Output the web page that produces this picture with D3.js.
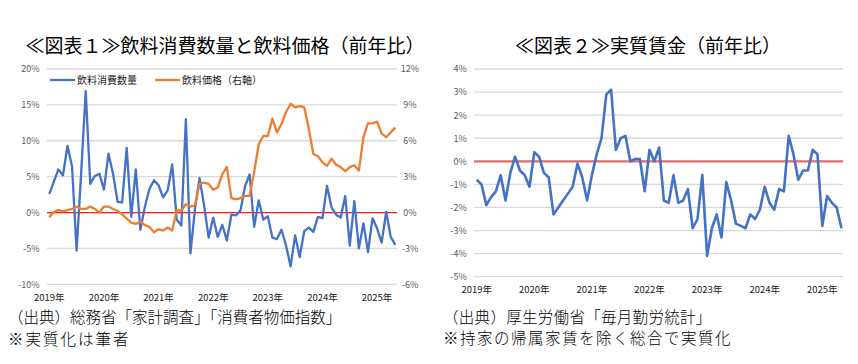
<!DOCTYPE html>
<html><head><meta charset="utf-8">
<script src="https://cdn.jsdelivr.net/npm/d3@7"></script>
<style>
body{margin:0;background:#fff;}
svg{display:block;font-family:"Noto Sans CJK JP","Noto Sans",sans-serif;}
</style>
</head><body>
<svg id="c" width="858" height="364"></svg>
<script>
// ---- data ----
const months = d3.timeMonth.range(new Date(2019,0,1), new Date(2025,5,1)); // Jan 2019 .. May 2025
const yearLabels = ["2019年","2020年","2021年","2022年","2023年","2024年","2025年"];

// 飲料消費数量 (%), left axis
const drinkQty = [
  2.6, 4.3, 6.0, 5.2, 9.3, 6.4, -5.3, 5.5, 16.9, 4.0, 5.1, 5.4,
  3.2, 8.2, 5.4, 1.5, 1.4, 9.0, -0.6, 6.0, -2.4, 0.8, 3.3, 4.5,
  3.8, 2.1, 3.1, 6.7, -1.0, -1.8, 13.0, -5.7, 0.5, 4.8, 1.0, -3.5,
  -0.7, -3.4, -1.7, -3.9, -0.3, -0.4, 0.3, 3.7, 5.3, -2.0, 1.7, -1.0,
  -0.5, -3.5, -3.7, -2.4, -4.6, -7.5, -3.2, -6.2, -2.6, -2.1, -2.7, -0.6,
  -0.8, 3.7, 0.7, -0.3, -0.7, 2.3, -4.6, 1.6, -5.0, -1.5, -5.5, -0.8,
  -2.2, -4.2, 0.1, -3.4, -4.5
];
// 飲料価格 (%), right axis
const drinkPrice = [
  -0.4, 0.05, 0.2, 0.1, 0.2, 0.3, 0.5, 0.3, 0.3, 0.5, 0.3, 0.0,
  0.5, 0.5, 0.3, 0.15, -0.15, -0.5, -0.85, -0.95, -0.75, -1.05, -1.2, -1.65,
  -1.4, -1.5, -1.25, -1.5, 0.2, 0.15, 0.7, 0.5, 0.6, 2.4, 2.5, 2.4,
  1.9, 2.1, 3.2, 3.8, 1.2, 1.1, 1.2, 1.4, 1.4, 3.4, 5.7, 6.4,
  6.4, 7.85, 6.7, 7.4, 8.4, 9.1, 8.8, 8.9, 8.8, 7.0, 4.9, 4.7,
  4.2, 3.9, 4.5, 4.0, 3.8, 3.45, 3.8, 3.95, 3.5, 6.3, 7.45, 7.45,
  7.6, 6.6, 6.3, 6.7, 7.1
];
// 実質賃金 (%)
const realWage = [
  -0.8, -1.0, -1.9, -1.55, -1.3, -0.6, -1.7, -0.5, 0.2, -0.4, -0.6, -1.1,
  0.4, 0.2, -0.5, -0.7, -2.3, -2.0, -1.7, -1.4, -1.1, -0.1, -0.7, -1.7,
  -0.6, 0.3, 1.0, 2.9, 3.1, 0.5, 1.0, 1.1, 0.0, 0.1, 0.1, -1.3,
  0.5, 0.0, 0.6, -1.7, -1.8, -0.6, -1.8, -1.7, -1.2, -2.9, -2.5, -0.6,
  -4.1, -2.9, -2.3, -3.3, -0.9, -1.7, -2.7, -2.8, -2.9, -2.3, -2.5, -2.1,
  -1.1, -1.8, -2.1, -1.2, -1.3, 1.1, 0.3, -0.8, -0.4, -0.4, 0.5, 0.3,
  -2.8, -1.5, -1.8, -2.0, -2.9
];

const leftTicks = [20, 15, 10, 5, 0, -5, -10];
const rightTicks = [12, 9, 6, 3, 0, -3, -6];
const wageTicks = [4, 3, 2, 1, 0, -1, -2, -3, -4, -5];

const title1 = "≪図表１≫飲料消費数量と飲料価格（前年比）";
const title2 = "≪図表２≫実質賃金（前年比）";
const legend1 = ["飲料消費数量", "飲料価格（右軸）"];
const notes1 = ["（出典）総務省「家計調査」「消費者物価指数」", "※実質化は筆者"];
const notes2 = ["（出典）厚生労働省「毎月勤労統計」", "※持家の帰属家賃を除く総合で実質化"];

// ---- drawing ----
const svg = d3.select("#c");
const BLUE = "#4472C4", ORANGE = "#ED7D31", GRID = "#d9d9d9", LBL = "#595959";
const pct = d => d + "%";
const keys = months.map(d => +d);
const janIdx = months.map((d,i)=>[d,i]).filter(([d])=>d.getMonth()===0).map(([,i])=>i);

// ===== Chart 1 =====
{
  const x = d3.scalePoint().domain(keys).range([49.3, 395.3]);
  const y = d3.scaleLinear().domain([-10, 20]).range([284.3, 69]);
  const yR = d3.scaleLinear().domain([-6, 12]).range([284.3, 69]);
  const g = svg.append("g");

  g.append("g").selectAll("line").data(leftTicks).join("line")
    .attr("x1", 47).attr("x2", 397)
    .attr("y1", d => y(d)).attr("y2", d => y(d))
    .attr("stroke", GRID).attr("stroke-width", 1.3);

  const axL = d3.axisLeft(y).tickValues(leftTicks).tickFormat(pct).tickSize(0).tickPadding(0);
  const gl = g.append("g").attr("transform", "translate(39.5,0)").call(axL);
  gl.select(".domain").remove();
  gl.selectAll("text").attr("fill", LBL).attr("font-size", 9).attr("font-family", "'Noto Sans CJK JP'");

  const axR = d3.axisRight(yR).tickValues(rightTicks).tickFormat(pct).tickSize(0).tickPadding(0);
  const gr = g.append("g").attr("transform", "translate(410,0)").call(axR);
  gr.select(".domain").remove();
  gr.selectAll("text").attr("fill", LBL).attr("font-size", 9).attr("text-anchor", "middle").attr("font-family", "'Noto Sans CJK JP'");

  g.append("line").attr("x1", 47).attr("x2", 397).attr("y1", y(0)).attr("y2", y(0))
    .attr("stroke", "#ff1a1a").attr("stroke-width", 1.2);

  g.append("path").datum(drinkQty)
    .attr("d", d3.line().x((d,i)=>x(keys[i])).y(d=>y(d)))
    .attr("fill","none").attr("stroke",BLUE).attr("stroke-width",2.3).attr("stroke-linejoin","round");
  g.append("path").datum(drinkPrice)
    .attr("d", d3.line().x((d,i)=>x(keys[i])).y(d=>yR(d)))
    .attr("fill","none").attr("stroke",ORANGE).attr("stroke-width",2.3).attr("stroke-linejoin","round");

  g.append("g").selectAll("text").data(janIdx).join("text")
    .attr("x", i => x(keys[i])).attr("y", 297.5).attr("dy", "0.35em")
    .attr("text-anchor", "middle").attr("font-size", 9.5).attr("fill", "#222")
    .text((d,k) => yearLabels[k]);

  // legend
  const lg = g.append("g");
  lg.append("line").attr("x1",50).attr("x2",75).attr("y1",80).attr("y2",80).attr("stroke",BLUE).attr("stroke-width",2.3);
  lg.append("text").attr("x",77).attr("y",80).attr("dy","0.35em").attr("font-size",10).attr("fill","#222").text(legend1[0]);
  lg.append("line").attr("x1",155).attr("x2",180).attr("y1",80).attr("y2",80).attr("stroke",ORANGE).attr("stroke-width",2.3);
  lg.append("text").attr("x",182).attr("y",80).attr("dy","0.35em").attr("font-size",10).attr("fill","#222").text(legend1[1]);

  svg.append("text").attr("x", 225).attr("y", 46).attr("dy","0.35em").attr("text-anchor","middle")
    .attr("font-size", 19).attr("fill","#000").text(title1);
  const sp1 = [0, 2];
  notes1.forEach((t,i)=>svg.append("text").attr("x",8).attr("y",317.5+i*22).attr("dy","0.35em")
    .attr("font-size",15.5).attr("font-weight",300).attr("letter-spacing",sp1[i]).attr("fill","#000").text(t));
}

// ===== Chart 2 =====
{
  const x = d3.scalePoint().domain(keys).range([476.7, 841.5]);
  const y = d3.scaleLinear().domain([-5, 4]).range([276.7, 69]);
  const g = svg.append("g");

  g.append("g").selectAll("line").data(wageTicks).join("line")
    .attr("x1", 474).attr("x2", 843)
    .attr("y1", d => y(d)).attr("y2", d => y(d))
    .attr("stroke", GRID).attr("stroke-width", 1.3);

  const axL = d3.axisLeft(y).tickValues(wageTicks).tickFormat(pct).tickSize(0).tickPadding(0);
  const gl = g.append("g").attr("transform", "translate(466.7,0)").call(axL);
  gl.select(".domain").remove();
  gl.selectAll("text").attr("fill", LBL).attr("font-size", 9).attr("font-family", "'Noto Sans CJK JP'");

  g.append("line").attr("x1", 474).attr("x2", 843).attr("y1", y(0)).attr("y2", y(0))
    .attr("stroke", "#e26b6b").attr("stroke-width", 2.2);

  g.append("path").datum(realWage)
    .attr("d", d3.line().x((d,i)=>x(keys[i])).y(d=>y(d)))
    .attr("fill","none").attr("stroke",BLUE).attr("stroke-width",2.6).attr("stroke-linejoin","round");

  g.append("g").selectAll("text").data(janIdx).join("text")
    .attr("x", i => x(keys[i])).attr("y", 290).attr("dy", "0.35em")
    .attr("text-anchor", "middle").attr("font-size", 9.5).attr("fill", "#222")
    .text((d,k) => yearLabels[k]);

  svg.append("text").attr("x", 648).attr("y", 46).attr("dy","0.35em").attr("text-anchor","middle")
    .attr("font-size", 19).attr("fill","#000").text(title2);
  const sp2 = [0.3, 1.5];
  notes2.forEach((t,i)=>svg.append("text").attr("x",443).attr("y",318+i*21).attr("dy","0.35em")
    .attr("font-size",15.5).attr("font-weight",300).attr("letter-spacing",sp2[i]).attr("fill","#000").text(t));
}
</script>
</body></html>
